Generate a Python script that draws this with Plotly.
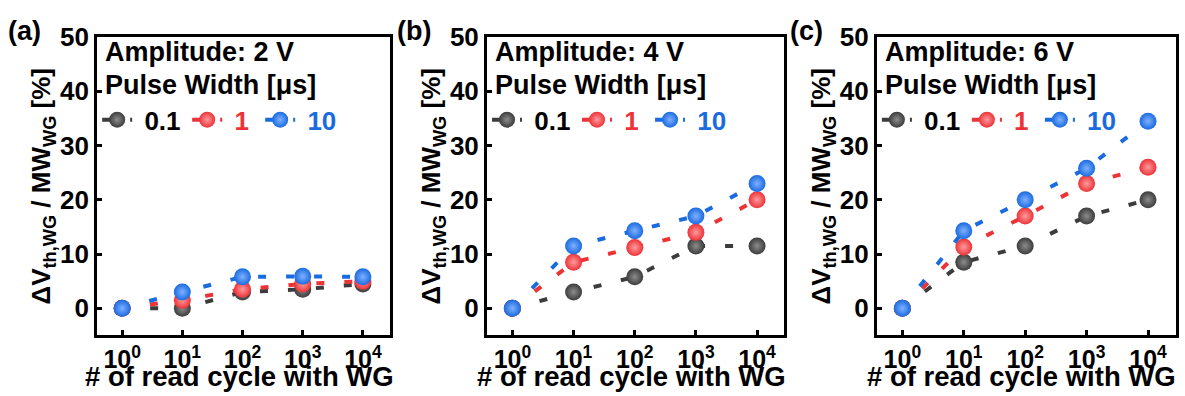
import plotly.graph_objects as go
from plotly.subplots import make_subplots

cycles = [1, 10, 100, 1000, 10000]
tick_text = ["10<sup>0</sup>", "10<sup>1</sup>", "10<sup>2</sup>", "10<sup>3</sup>", "10<sup>4</sup>"]
pulse_widths = ["0.1", "1", "10"]
amplitudes = ["2 V", "4 V", "6 V"]
panel_labels = ["(a)", "(b)", "(c)"]

# values [%] per amplitude, per pulse width
amp2_pw01 = [0, 0, 3, 3.5, 4.5]
amp2_pw1 = [0, 1.5, 3.5, 4.5, 5]
amp2_pw10 = [0, 3, 5.8, 5.9, 5.8]

amp4_pw01 = [0, 3, 5.8, 11.5, 11.5]
amp4_pw1 = [0, 8.5, 11.2, 14, 20]
amp4_pw10 = [0, 11.5, 14.3, 17, 23]

amp6_pw01 = [0, 8.5, 11.5, 17, 20]
amp6_pw1 = [0, 11.3, 17, 23, 26]
amp6_pw10 = [0, 14.3, 20, 25.8, 34.5]

panels = [
    [amp2_pw01, amp2_pw1, amp2_pw10],
    [amp4_pw01, amp4_pw1, amp4_pw10],
    [amp6_pw01, amp6_pw1, amp6_pw10],
]

colors = ["#3c3c3c", "#ec3338", "#1a6be0"]
tints = ["#8c8c8c", "#ff9a9d", "#7fb0ff"]
text_colors = ["#000000", "#ec3338", "#1a6be0"]
legend_widths = [45, 28, 40]

FONT = "Arial, Liberation Sans, sans-serif"

fig = make_subplots(rows=1, cols=3)

x_domains = [[0.082, 0.329], [0.411, 0.662], [0.740, 0.992]]
y_domain = [0.159, 0.942]
legend_names = ["legend", "legend2", "legend3"]

for p, series in enumerate(panels):
    for s, vals in enumerate(series):
        fig.add_trace(
            go.Scatter(
                x=cycles,
                y=vals,
                mode="lines+markers",
                name=f'<span style="color:{text_colors[s]}">\u00a0{pulse_widths[s]}</span>',
                line=dict(color=colors[s], width=4, dash="8px,20px"),
                marker=dict(
                    size=17,
                    color=colors[s],
                    line=dict(width=0),
                    gradient=dict(type="radial", color=tints[s]),
                ),
                legend=legend_names[p],
                legendwidth=legend_widths[s],
                showlegend=True,
            ),
            row=1,
            col=p + 1,
        )

layout_updates = {}
for p in range(3):
    xa = "xaxis" if p == 0 else f"xaxis{p+1}"
    ya = "yaxis" if p == 0 else f"yaxis{p+1}"
    layout_updates[xa] = dict(
        type="log",
        domain=x_domains[p],
        range=[-0.415, 4.448],
        tickvals=cycles,
        ticktext=tick_text,
        ticks="inside",
        ticklen=5,
        tickwidth=2.5,
        tickcolor="black",
        showline=True,
        linewidth=3,
        linecolor="black",
        mirror=True,
        showgrid=False,
        zeroline=False,
        tickfont=dict(family=FONT, size=25, color="black", weight="bold"),
    )
    layout_updates[ya] = dict(
        domain=y_domain,
        range=[-5, 50],
        tickvals=[0, 10, 20, 30, 40, 50],
        ticks="inside",
        ticklen=5,
        tickwidth=2.5,
        tickcolor="black",
        showline=True,
        linewidth=3,
        linecolor="black",
        mirror=True,
        showgrid=False,
        zeroline=False,
        tickfont=dict(family=FONT, size=26, color="black", weight="bold"),
        title=dict(
            text="ΔV<sub>th,WG</sub> / MW<sub>WG</sub> [%]",
            font=dict(family=FONT, size=26, color="black", weight="bold"),
            standoff=2,
        ),
    )
    layout_updates[legend_names[p]] = dict(
        orientation="h",
        x=x_domains[p][0],
        xanchor="left",
        y=0.725,
        yanchor="middle",
        bgcolor="rgba(0,0,0,0)",
        borderwidth=0,
        font=dict(family=FONT, size=26, color="black", weight="bold"),
        itemsizing="trace",
        tracegroupgap=0,
    )

fig.update_layout(**layout_updates)

annotations = []
for p in range(3):
    xref = "x domain" if p == 0 else f"x{p+1} domain"
    yref = "y domain" if p == 0 else f"y{p+1} domain"
    annotations.append(dict(
        text=f"Amplitude: {amplitudes[p]}", xref=xref, yref=yref,
        x=0.02, y=0.950, xanchor="left", yanchor="middle", showarrow=False,
        font=dict(family=FONT, size=27, color="black", weight="bold"),
    ))
    annotations.append(dict(
        text="Pulse Width [μs]", xref=xref, yref=yref,
        x=0.02, y=0.838, xanchor="left", yanchor="middle", showarrow=False,
        font=dict(family=FONT, size=27, color="black", weight="bold"),
    ))
    annotations.append(dict(
        text="# of read cycle with WG", xref=xref, yref="paper",
        x=0.485, y=1 - 376 / 396, xanchor="center", yanchor="middle", showarrow=False,
        font=dict(family=FONT, size=27.5, color="black", weight="bold"),
    ))
label_x = [24, 414, 806]
for p in range(3):
    annotations.append(dict(
        text=panel_labels[p], xref="paper", yref="paper",
        x=label_x[p] / 1185, y=1 - 17 / 396, xanchor="center", yanchor="middle",
        showarrow=False,
        font=dict(family=FONT, size=27, color="black", weight="bold"),
    ))

fig.update_layout(
    annotations=annotations,
    width=1185,
    height=396,
    margin=dict(l=0, r=0, t=0, b=0),
    paper_bgcolor="white",
    plot_bgcolor="white",
    font=dict(family=FONT, color="black"),
)

fig.write_html("out.html")
